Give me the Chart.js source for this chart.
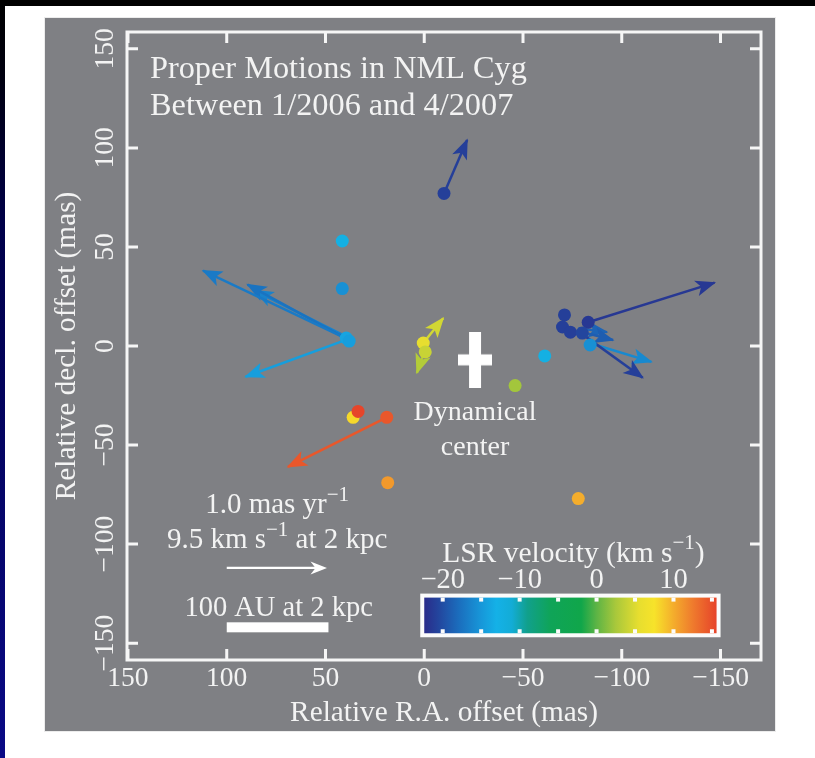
<!DOCTYPE html>
<html><head><meta charset="utf-8">
<style>
html,body{margin:0;padding:0;background:#000;overflow:hidden}
#wrap{position:absolute;left:0;top:0;width:815px;height:758px}
</style>
<script src="https://cdn.jsdelivr.net/npm/chart.js@4.4.1/dist/chart.umd.min.js"></script>
</head><body><div id="wrap"><canvas id="c" width="815" height="758"></canvas></div>
<script>
// ---------------- DATA ----------------
// maser spots: relative R.A. offset (mas), relative decl. offset (mas), LSR velocity (km/s)
const maserRA   = [-10, 41.5, 41.5, 39.5, 38, 0.5, -0.5, -46, -61, -71, -70, -74, -83, -80, -84, 36, 33.5, 19, 18.5, -78];
const maserDec  = [77, 53, 29, 4, 2.5, 1.5, -3, -20, -5, 15.7, 9.6, 7, 12, 6.5, 0.5, -36, -33, -36, -69, -77];
const maserVlsr = [-21, -12.5, -15.5, -14, -14.5, 5.5, 4, 2.3, -12.5, -21, -21, -21, -21.5, -20.5, -15.5, 8, 15.5, 14.5, 11, 10];

// proper-motion arrows: start and end (mas), LSR velocity (km/s)
const arrowStartRA  = [-10, 40, 40, 40, 40, 0.5, -0.3, -83, -80, -82, -80, -78, 19];
const arrowStartDec = [77, 4, 4, 5, 3, 1.5, -2, 12, 6, 2, 7, 9, -36];
const arrowEndRA    = [-21.7, 112, 89.5, 86, 90.5, -9.6, 3.7, -147, -110.6, -115, -95.6, -92.5, 69];
const arrowEndDec   = [104, 38, 31, 28, -15.5, 14, -13.6, 32, -16, -8, 3, 7, -61];
const arrowVlsr     = [-21, -17, -17.5, -16.5, -14.5, 4.5, 3, -21.5, -21, -16, -19, -18.5, 14.5];

// dynamical center
const centerRA  = [-25.7];
const centerDec = [-7];

// axis ticks
const tickValues = [150, 100, 50, 0, -50, -100, -150];
const tickLabels = ['150', '100', '50', '0', '\u221250', '\u2212100', '\u2212150'];

// colour bar
const cbarTickValues = [-20, -10, 0, 10];
const cbarTickLabels = ['\u221220', '\u221210', '0', '10'];
const cbarNotchValues = [-20, -15, -10, -5, 0, 5, 10, 15];
const cbarRange = [-22.4, 15.6];

// scale bars (mas)
const pmScaleRA  = [100, 50];
const pmScaleDec = [-112];
const auScaleRA  = [100, 48.5];
const auScaleDec = [-142];

// ---------------- STYLE ----------------
const cmapStops = [
  [-22.4, '#2a2c8a'], [-20.5, '#23469e'], [-18, '#1b6cbc'], [-15, '#1797d9'],
  [-13, '#14b1e7'], [-11, '#13acd6'], [-9, '#11a08c'], [-6, '#0fa458'],
  [-2, '#10a64a'], [0, '#5db445'], [2.5, '#a9c83b'], [5.5, '#e7de2f'],
  [7.5, '#f7e32a'], [10, '#f4ad2c'], [12.5, '#ef7b2d'], [15.6, '#e6432a']
];
const TEXT = '#f3f3f3';
const SERIF = '"Liberation Serif", "Times New Roman", serif';

function hex2rgb(h){return [parseInt(h.slice(1,3),16),parseInt(h.slice(3,5),16),parseInt(h.slice(5,7),16)];}
function vColor(v){
  if (v <= cmapStops[0][0]) return cmapStops[0][1];
  for (let i = 1; i < cmapStops.length; i++){
    if (v <= cmapStops[i][0]){
      const [v0,c0] = cmapStops[i-1], [v1,c1] = cmapStops[i];
      const t = (v - v0) / (v1 - v0);
      const a = hex2rgb(c0), b = hex2rgb(c1);
      return 'rgb(' + a.map((x,k)=>Math.round(x + (b[k]-x)*t)).join(',') + ')';
    }
  }
  return cmapStops[cmapStops.length-1][1];
}

// cross marker for the dynamical centre
const crossImg = document.createElement('canvas');
crossImg.width = 34; crossImg.height = 56;
(function(){
  const g = crossImg.getContext('2d');
  g.fillStyle = '#ffffff';
  g.fillRect(11, 0, 12, 56);
  g.fillRect(0, 22.5, 34, 11);
})();

// ---------------- DATASETS ----------------
const arrowDatasets = arrowStartRA.map((_, i) => ({
  type: 'line',
  label: 'arrow' + i,
  data: [{x: arrowStartRA[i], y: arrowStartDec[i]}, {x: arrowEndRA[i], y: arrowEndDec[i]}],
  borderColor: vColor(arrowVlsr[i]),
  borderWidth: 2.5,
  pointRadius: 0,
  fill: false,
  tension: 0,
  order: 3,
  isArrow: true
}));

const maserDataset = {
  type: 'scatter',
  label: 'masers',
  data: maserRA.map((x, i) => ({x: x, y: maserDec[i]})),
  pointRadius: 6.5,
  pointBackgroundColor: maserVlsr.map(vColor),
  pointBorderWidth: 0,
  order: 2
};

const centerDataset = {
  type: 'scatter',
  label: 'center',
  data: centerRA.map((x, i) => ({x: x, y: centerDec[i]})),
  pointStyle: crossImg,
  order: 1
};

// ---------------- DRAW HELPERS ----------------
function drawHead(ctx, x0, y0, x1, y1, color, L, W, N){
  const dx = x1 - x0, dy = y1 - y0, len = Math.hypot(dx, dy);
  const ux = dx/len, uy = dy/len, px = -uy, py = ux;
  ctx.save();
  ctx.fillStyle = color;
  ctx.beginPath();
  ctx.moveTo(x1 + ux*1.5, y1 + uy*1.5);
  ctx.lineTo(x1 - ux*L + px*W, y1 - uy*L + py*W);
  ctx.lineTo(x1 - ux*(L-N), y1 - uy*(L-N));
  ctx.lineTo(x1 - ux*L - px*W, y1 - uy*L - py*W);
  ctx.closePath();
  ctx.fill();
  ctx.restore();
}

const SUP = 0.72;
function richWidth(ctx, parts, size){
  let w = 0;
  parts.forEach(p => { ctx.font = (p.sup ? Math.round(size*SUP) : size) + 'px ' + SERIF; w += ctx.measureText(p.t).width; });
  return w;
}
function drawRich(ctx, parts, cx, baseline, size){
  const w = richWidth(ctx, parts, size);
  let x = cx - w/2;
  ctx.textAlign = 'left'; ctx.textBaseline = 'alphabetic'; ctx.fillStyle = TEXT;
  parts.forEach(p => {
    const s = p.sup ? Math.round(size*SUP) : size;
    ctx.font = s + 'px ' + SERIF;
    ctx.fillText(p.t, x, p.sup ? baseline - size*0.42 : baseline);
    x += ctx.measureText(p.t).width;
  });
}

const figurePlugin = {
  id: 'figure',
  beforeDraw(chart){
    const ctx = chart.ctx, W = chart.width, H = chart.height;
    ctx.save();
    ctx.fillStyle = '#000'; ctx.fillRect(0, 0, W, H);
    const g = ctx.createLinearGradient(0, 0, 0, H);
    g.addColorStop(0, '#000000'); g.addColorStop(0.1, '#000010');
    g.addColorStop(0.3, '#00004a'); g.addColorStop(1, '#0a0a86');
    ctx.fillStyle = g; ctx.fillRect(0, 0, 6, H);
    ctx.fillStyle = '#ffffff'; ctx.fillRect(5, 6, W - 5, H - 6);
    ctx.fillStyle = '#ececec'; ctx.fillRect(44, 17, 732, 715);
    ctx.fillStyle = 'rgb(127,128,132)'; ctx.fillRect(45, 18, 730, 713);
    ctx.restore();
  },
  afterDatasetDraw(chart, args){
    const ds = chart.data.datasets[args.index];
    if (!ds.isArrow) return;
    const pts = args.meta.data;
    drawHead(chart.ctx, pts[0].x, pts[0].y, pts[1].x, pts[1].y, ds.borderColor, 19, 8, 5);
  },
  afterDraw(chart){
    const ctx = chart.ctx, a = chart.chartArea;
    const xs = chart.scales.x, ys = chart.scales.y;
    ctx.save();
    // axes box and inward ticks
    ctx.strokeStyle = '#f6f6f6'; ctx.lineWidth = 3;
    ctx.strokeRect(a.left, a.top, a.right - a.left, a.bottom - a.top);
    const TL = 11;
    ctx.beginPath();
    tickValues.forEach(v => {
      const px = xs.getPixelForValue(v), py = ys.getPixelForValue(v);
      ctx.moveTo(px, a.bottom); ctx.lineTo(px, a.bottom - TL);
      ctx.moveTo(px, a.top); ctx.lineTo(px, a.top + TL);
      ctx.moveTo(a.left, py); ctx.lineTo(a.left + TL, py);
      ctx.moveTo(a.right, py); ctx.lineTo(a.right - TL, py);
    });
    ctx.stroke();

    // tick labels
    ctx.fillStyle = TEXT;
    ctx.font = '27.5px ' + SERIF;
    ctx.textAlign = 'center'; ctx.textBaseline = 'middle';
    tickValues.forEach((v, i) => {
      ctx.fillText(tickLabels[i], xs.getPixelForValue(v), a.bottom + 19);
      ctx.save();
      ctx.translate(a.left - 21, ys.getPixelForValue(v));
      ctx.rotate(-Math.PI/2);
      ctx.fillText(tickLabels[i], 0, 0);
      ctx.restore();
    });
    // axis titles
    ctx.font = '29.3px ' + SERIF;
    ctx.fillText('Relative R.A. offset (mas)', (a.left + a.right)/2, a.bottom + 53);
    ctx.save();
    ctx.translate(a.left - 60, (a.top + a.bottom)/2);
    ctx.rotate(-Math.PI/2);
    ctx.fillText('Relative decl. offset (mas)', 0, 0);
    ctx.restore();

    // title
    ctx.textAlign = 'left'; ctx.textBaseline = 'alphabetic';
    ctx.font = '32.3px ' + SERIF;
    ctx.fillText('Proper Motions in NML Cyg', a.left + 23, a.top + 46);
    ctx.fillText('Between 1/2006 and 4/2007', a.left + 23, a.top + 83);

    // dynamical centre label
    const cx = xs.getPixelForValue(centerRA[0]), cy = ys.getPixelForValue(centerDec[0]);
    ctx.textAlign = 'center';
    ctx.font = '28px ' + SERIF;
    ctx.fillText('Dynamical', cx, cy + 60);
    ctx.fillText('center', cx, cy + 95);

    // proper motion scale arrow
    const sx0 = xs.getPixelForValue(pmScaleRA[0]), sx1 = xs.getPixelForValue(pmScaleRA[1]);
    const sy = ys.getPixelForValue(pmScaleDec[0]);
    ctx.strokeStyle = '#ffffff'; ctx.lineWidth = 2.2;
    ctx.beginPath(); ctx.moveTo(sx0, sy); ctx.lineTo(sx1 - 8, sy); ctx.stroke();
    drawHead(ctx, sx0, sy, sx1, sy, '#ffffff', 15, 6.5, 5);
    const tcx = (sx0 + sx1)/2 + 1;
    drawRich(ctx, [{t:'1.0 mas yr'}, {t:'\u22121', sup:true}], tcx, sy - 55, 29);
    drawRich(ctx, [{t:'9.5 km s'}, {t:'\u22121', sup:true}, {t:' at 2 kpc'}], tcx, sy - 20, 29);
    // AU scale bar
    const bx0 = xs.getPixelForValue(auScaleRA[0]), bx1 = xs.getPixelForValue(auScaleRA[1]);
    const by = ys.getPixelForValue(auScaleDec[0]);
    ctx.fillStyle = '#ffffff';
    ctx.fillRect(bx0, by - 5, bx1 - bx0, 10);
    drawRich(ctx, [{t:'100 AU at 2 kpc'}], (bx0 + bx1)/2 + 1, by - 11, 28.5);

    // colour bar
    const cbL = xs.getPixelForValue(0), cbR = xs.getPixelForValue(-148);
    const cbT = ys.getPixelForValue(-127), cbB = ys.getPixelForValue(-145);
    const vToX = v => cbL + (v - cbarRange[0]) / (cbarRange[1] - cbarRange[0]) * (cbR - cbL);
    ctx.fillStyle = '#fbfbfb';
    ctx.fillRect(cbL - 4, cbT - 4, cbR - cbL + 8, cbB - cbT + 8);
    const grad = ctx.createLinearGradient(cbL, 0, cbR, 0);
    cmapStops.forEach(s => grad.addColorStop((s[0] - cbarRange[0]) / (cbarRange[1] - cbarRange[0]), s[1]));
    ctx.fillStyle = grad;
    ctx.fillRect(cbL, cbT, cbR - cbL, cbB - cbT);
    ctx.fillStyle = '#fbfbfb';
    cbarNotchValues.forEach(v => {
      const nx = vToX(v);
      ctx.fillRect(nx - 2, cbT, 4, 4);
      ctx.fillRect(nx - 2, cbB - 4, 4, 4);
    });
    ctx.fillStyle = TEXT;
    ctx.font = '28.5px ' + SERIF;
    ctx.textAlign = 'center'; ctx.textBaseline = 'alphabetic';
    cbarTickValues.forEach((v, i) => ctx.fillText(cbarTickLabels[i], vToX(v), cbT - 10));
    drawRich(ctx, [{t:'LSR velocity (km s'}, {t:'\u22121', sup:true}, {t:')'}], (cbL + cbR)/2 + 3, cbT - 36, 29.5);
    ctx.restore();
  }
};

new Chart(document.getElementById('c'), {
  data: { datasets: [...arrowDatasets, maserDataset, centerDataset] },
  options: {
    responsive: false,
    animation: false,
    events: [],
    layout: { padding: { left: 127, right: 54, top: 32, bottom: 98 } },
    plugins: { legend: { display: false }, tooltip: { enabled: false } },
    scales: {
      x: { type: 'linear', min: -170.5, max: 150.5, reverse: true, display: false },
      y: { type: 'linear', min: -158.5, max: 158.5, display: false }
    }
  },
  plugins: [figurePlugin]
});
</script>
</body></html>
